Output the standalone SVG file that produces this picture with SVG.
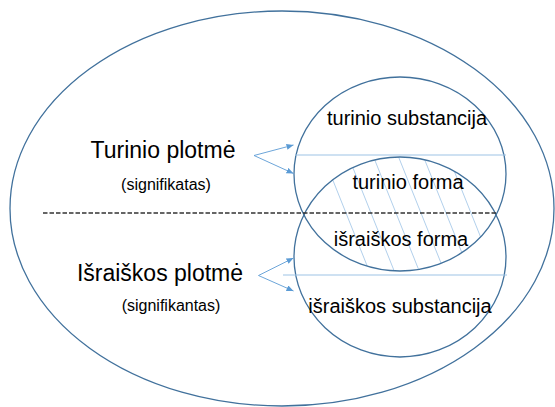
<svg xmlns="http://www.w3.org/2000/svg" width="555" height="407" viewBox="0 0 555 407">
  <style>
    .shape { fill: none; stroke: #41719c; stroke-width: 1.3; }
    .lbl { font-family: "Liberation Sans", Arial, sans-serif; fill: #000; text-anchor: middle; }
    .big { font-size: 23px; }
    .small { font-size: 16px; }
    .mid { font-size: 20px; }
    .divider { stroke: #9dc3e6; stroke-width: 1.2; fill: none; }
    .hatch { stroke: #9dc3e6; stroke-width: 0.8; }
    .arrow { stroke: #5b9bd5; stroke-width: 0.9; fill: none; marker-end: url(#ah); }
    .dash { stroke: #333; stroke-width: 1.4; stroke-dasharray: 4.5 2; fill: none; }
  </style>
  <defs>
    <marker id="ah" markerUnits="userSpaceOnUse" markerWidth="8" markerHeight="7" refX="7" refY="3" orient="auto">
      <path d="M0,0 L7,3 L0,6 z" fill="#5b9bd5"/>
    </marker>
    <clipPath id="clipUpper"><ellipse cx="400" cy="174" rx="106" ry="97"/></clipPath>
    <clipPath id="clipLower"><ellipse cx="400" cy="257" rx="106" ry="100"/></clipPath>
  </defs>
  <rect width="555" height="407" fill="#fff"/>

  <g id="outer">
    <ellipse class="shape" cx="282" cy="208.5" rx="272" ry="197.5"/>
  </g>

  <g id="hatching" clip-path="url(#clipUpper)">
    <g clip-path="url(#clipLower)">
      <line class="hatch" x1="302" y1="103" x2="390" y2="323"/>
      <line class="hatch" x1="327" y1="103" x2="415" y2="323"/>
      <line class="hatch" x1="352" y1="103" x2="440" y2="323"/>
      <line class="hatch" x1="377" y1="103" x2="465" y2="323"/>
      <line class="hatch" x1="402" y1="103" x2="490" y2="323"/>
      <line class="hatch" x1="427" y1="103" x2="515" y2="323"/>
    </g>
  </g>

  <g id="upper-circle">
    <ellipse class="shape" cx="400" cy="174" rx="106" ry="97"/>
    <line class="divider" x1="295" y1="155" x2="506" y2="155"/>
    <text class="lbl mid" x="407" y="125">turinio substancija</text>
    <text class="lbl mid" x="408" y="188.5">turinio forma</text>
  </g>

  <g id="lower-circle">
    <ellipse class="shape" cx="400" cy="257" rx="106" ry="100"/>
    <line class="divider" x1="283" y1="275" x2="507" y2="275"/>
    <text class="lbl mid" x="401" y="246">išraiškos forma</text>
    <text class="lbl mid" x="400" y="313">išraiškos substancija</text>
  </g>

  <g id="content-plane">
    <text class="lbl big" x="163" y="158">Turinio plotmė</text>
    <text class="lbl small" x="166" y="190">(signifikatas)</text>
  </g>

  <g id="expression-plane">
    <text class="lbl big" x="160" y="280.5">Išraiškos plotmė</text>
    <text class="lbl small" x="171" y="311">(signifikantas)</text>
  </g>

  <g id="connectors">
    <line class="dash" x1="43" y1="213" x2="497" y2="213"/>
    <line class="arrow" x1="254" y1="155.5" x2="293.5" y2="145"/>
    <line class="arrow" x1="254" y1="155.5" x2="293.5" y2="173.5"/>
    <line class="arrow" x1="258.5" y1="275.5" x2="293.5" y2="258"/>
    <line class="arrow" x1="258.5" y1="275.5" x2="293.5" y2="291"/>
  </g>
</svg>
